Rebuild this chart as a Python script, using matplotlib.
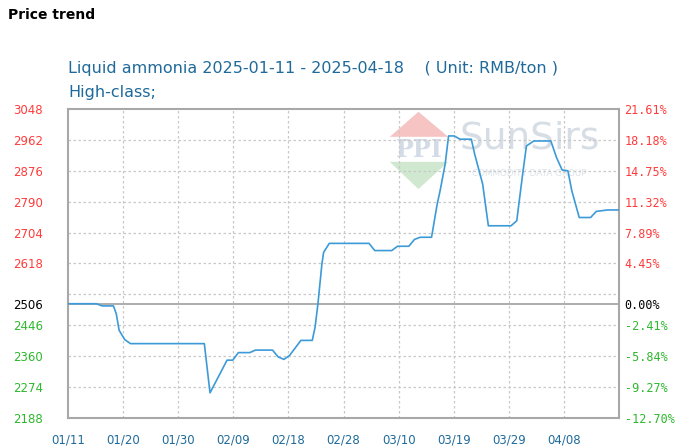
import matplotlib
matplotlib.use('Agg')
import matplotlib.pyplot as plt
from matplotlib.patches import Polygon

# day offset from 2025-01-11, price in RMB/ton
days = [0, 5, 6, 8, 8.5, 9, 10, 11, 24, 25, 28, 29, 30, 32, 33, 36, 37, 38, 39, 41, 43,
        43.5, 44, 44.7, 45, 46, 53, 54, 57, 58, 60, 61, 62, 64, 65, 65.5, 66.4, 67, 68,
        69, 71, 71.6, 73, 74, 78, 79, 80, 80.7, 82, 85, 86, 87, 88, 88.7, 90, 92, 93,
        95, 97]
prices = [2506, 2506, 2500, 2500, 2478, 2432, 2406, 2395, 2395, 2258, 2349, 2349, 2370,
          2370, 2377, 2377, 2358, 2351, 2362, 2404, 2404, 2441, 2506, 2617, 2649, 2674,
          2674, 2654, 2654, 2666, 2666, 2685, 2691, 2691, 2784, 2820, 2895, 2973, 2973,
          2964, 2964, 2922, 2839, 2723, 2723, 2737, 2862, 2945, 2959, 2959, 2913, 2878,
          2876, 2820, 2746, 2746, 2763, 2767, 2767]

base_price = 2506
left_ticks = [3048, 2962, 2876, 2790, 2704, 2618, 2506, 2446, 2360, 2274, 2188]
right_labels = ['21.61%', '18.18%', '14.75%', '11.32%', '7.89%', '4.45%', '0.00%',
                '-2.41%', '-5.84%', '-9.27%', '-12.70%']
grid_levels = [2274, 2360, 2446, 2532, 2618, 2704, 2790, 2876, 2962]
date_labels = ['01/11', '01/20', '01/30', '02/09', '02/18', '02/28', '03/10', '03/19',
               '03/29', '04/08']
total_days = 97

red = '#ff3b3b'
green = '#2db82d'
blue_text = '#1f6a9a'

fig = plt.figure(figsize=(6.9, 4.47), dpi=100)
ax = fig.add_axes([68 / 690, 29 / 447, 551 / 690, 309 / 447])

ax.set_xlim(0, total_days)
ax.set_ylim(2188, 3048)

# watermark
wm = ax.transAxes
ax.add_patch(Polygon([[0.584, 0.910], [0.690, 0.910], [0.636, 0.991]], closed=True,
                     transform=wm, color='#f7c4c4', lw=0, zorder=0))
ax.add_patch(Polygon([[0.584, 0.829], [0.690, 0.829], [0.636, 0.741]], closed=True,
                     transform=wm, color='#cfe8cf', lw=0, zorder=0))
ax.text(0.637, 0.868, 'PPI', transform=wm, ha='center', va='center', fontsize=17,
        fontweight='bold', color='#d3dbe6', family='DejaVu Serif', zorder=0)
ax.text(0.838, 0.905, 'SunSirs', transform=wm, ha='center', va='center', fontsize=27,
        color='#d6dde5', zorder=0)
ax.text(0.838, 0.792, 'COMMODITY DATA GROUP', transform=wm, ha='center', va='center',
        fontsize=6.3, color='#dde3ea', zorder=0)

# grid
xticks = [total_days / 10 * i for i in range(10)]
for g in grid_levels:
    ax.axhline(g, color='#c8c8c8', lw=0.9, ls=(0, (2, 2)), zorder=1)
for xt in xticks[1:]:
    ax.axvline(xt, color='#c8c8c8', lw=0.9, ls=(0, (2, 2)), zorder=1)
ax.axhline(base_price, color='#a0a0a0', lw=1.2, zorder=1)

ax.plot(days, prices, color='#3c9ad8', lw=1.2, zorder=3)

for s in ax.spines.values():
    s.set_color('#a8a8a8')
    s.set_linewidth(1.5)

ax.set_xticks(xticks)
ax.set_xticklabels(date_labels, color=blue_text, fontsize=8.5)
ax.tick_params(axis='x', length=0, pad=11)

ax.set_yticks(left_ticks)
ax.set_yticklabels([str(v) for v in left_ticks], fontsize=8.5, ha='left')
ax.tick_params(axis='y', length=0, pad=39.5)
for lab, v in zip(ax.get_yticklabels(), left_ticks):
    lab.set_color('black' if v == base_price else (red if v > base_price else green))

ax2 = ax.twinx()
ax2.set_ylim(ax.get_ylim())
ax2.set_yticks(left_ticks)
ax2.set_yticklabels(right_labels, fontsize=8.5, family='DejaVu Sans Mono')
ax2.tick_params(axis='y', length=0, pad=4)
for lab, v in zip(ax2.get_yticklabels(), left_ticks):
    lab.set_color('black' if v == base_price else (red if v > base_price else green))
for s in ax2.spines.values():
    s.set_visible(False)

fig.text(8 / 690, 1 - 15 / 447, 'Price trend', fontsize=10, fontweight='bold',
         va='center', ha='left')
fig.text(68 / 690, 1 - 68 / 447,
         'Liquid ammonia 2025-01-11 - 2025-04-18    ( Unit: RMB/ton )',
         fontsize=11.5, color=blue_text, va='center', ha='left')
fig.text(68 / 690, 1 - 92 / 447, 'High-class;', fontsize=11.5, color=blue_text,
         va='center', ha='left')

fig.savefig('out.png', dpi=100)
